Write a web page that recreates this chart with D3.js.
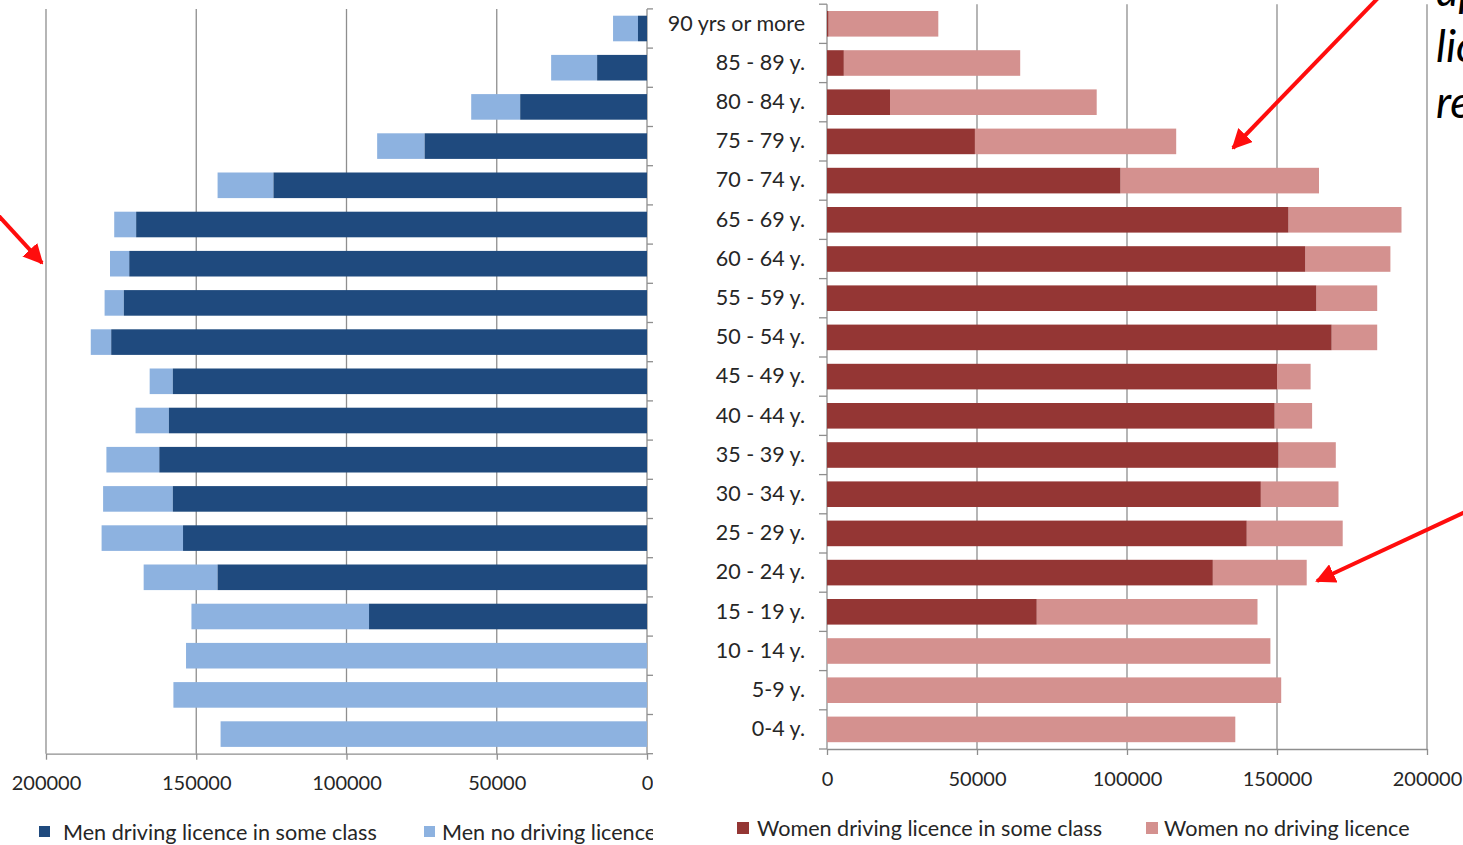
<!DOCTYPE html>
<html>
<head>
<meta charset="utf-8">
<script src="https://cdn.jsdelivr.net/npm/d3@7"></script>
<style>
  html, body { margin: 0; padding: 0; background: #ffffff; overflow: hidden; }
  svg { display: block; }
  text { font-family: Lato, "Open Sans", sans-serif; fill: #262626; }
</style>
</head>
<body>
<svg id="chart" width="1463" height="845"></svg>
<script>
// ---- data ----
const categories = ["90 yrs or more", "85 - 89 y.", "80 - 84 y.", "75 - 79 y.", "70 - 74 y.", "65 - 69 y.",
  "60 - 64 y.", "55 - 59 y.", "50 - 54 y.", "45 - 49 y.", "40 - 44 y.", "35 - 39 y.", "30 - 34 y.",
  "25 - 29 y.", "20 - 24 y.", "15 - 19 y.", "10 - 14 y.", "5-9 y.", "0-4 y."];
const menLicence      = [3000, 16600, 42200, 74000, 124300, 170000, 172300, 174100, 178300, 157800, 159100, 162300, 157800, 154400, 142900, 92500, 0, 0, 0];
const menNoLicence    = [8300, 15300, 16300, 15800, 18600, 7300, 6400, 6400, 6800, 7700, 11100, 17600, 23200, 27100, 24600, 59100, 153400, 157600, 141900];
const womenLicence    = [500, 5600, 21000, 49300, 97800, 153800, 159400, 163100, 168200, 150000, 149200, 150500, 144600, 139900, 128600, 69900, 0, 0, 0];
const womenNoLicence  = [36600, 58800, 68900, 67100, 66200, 37700, 28400, 20300, 15200, 11200, 12500, 19100, 25900, 32000, 31300, 73600, 147800, 151400, 136100];
const xTicks = [0, 50000, 100000, 150000, 200000];
const legendMen = ["Men driving licence in some class", "Men no driving licence"];
const legendWomen = ["Women driving licence in some class", "Women no driving licence"];
const noteLines = ["ap", "lic", "re"];

// ---- styles ----
const C = {
  menLic: "#1f4a7e", menNo: "#8db2e0",
  womLic: "#943634", womNo: "#d4918f",
  grid: "#8e8e8e", red: "#ff0d0d"
};

const svg = d3.select("#chart");
const defs = svg.append("defs");
defs.append("clipPath").attr("id", "leftClip")
  .append("rect").attr("x", 0).attr("y", 0).attr("width", 653).attr("height", 845);

// ---- scales ----
const xL = d3.scaleLinear().domain([0, 200000]).range([647, 46]);
const xR = d3.scaleLinear().domain([0, 200000]).range([827, 1427]);
const yL = d3.scaleBand().domain(categories).range([8.9, 753.7]).paddingInner(0.347).paddingOuter(0.1735);
const yR = d3.scaleBand().domain(categories).range([4.2, 749]).paddingInner(0.347).paddingOuter(0.1735);

function gridAndAxes(g, x, y, side) {
  const [y0, y1] = y.range();
  // gridlines
  g.append("g").selectAll("line").data(xTicks.filter(d => d !== 0)).join("line")
    .attr("x1", d => x(d)).attr("x2", d => x(d))
    .attr("y1", y0).attr("y2", y1)
    .attr("stroke", C.grid).attr("stroke-width", 1.3);
  // bottom axis
  const ax = g.append("g").attr("transform", `translate(0,${y1})`)
    .call(d3.axisBottom(x).tickValues(xTicks).tickFormat(d3.format("d")).tickSizeInner(6).tickSizeOuter(0).tickPadding(side === "L" ? 16 : 17));
  ax.select(".domain").attr("stroke", C.grid).attr("stroke-width", 1.3);
  ax.selectAll(".tick line").attr("stroke", C.grid).attr("stroke-width", 1.3);
  ax.selectAll(".tick text").attr("font-size", 20).attr("font-family", "Lato, sans-serif").attr("fill", "#262626");
  // vertical axis line
  g.append("line").attr("x1", x(0)).attr("x2", x(0)).attr("y1", y0).attr("y2", y1)
    .attr("stroke", C.grid).attr("stroke-width", 1.3);
  // category boundary ticks
  const bounds = d3.range(categories.length + 1).map(i => y0 + i * y.step());
  const dir = side === "L" ? 6 : -8;
  g.append("g").selectAll("line").data(bounds).join("line")
    .attr("x1", x(0)).attr("x2", x(0) + dir)
    .attr("y1", d => d).attr("y2", d => d)
    .attr("stroke", C.grid).attr("stroke-width", 1.3);
}

// ---- left (men) ----
const gL = svg.append("g").attr("clip-path", "url(#leftClip)");
gridAndAxes(gL, xL, yL, "L");
gL.append("g").selectAll("rect").data(categories).join("rect")
  .attr("x", (d, i) => xL(menLicence[i] + menNoLicence[i]))
  .attr("width", (d, i) => xL(menLicence[i]) - xL(menLicence[i] + menNoLicence[i]))
  .attr("y", d => yL(d)).attr("height", yL.bandwidth())
  .attr("fill", C.menNo);
gL.append("g").selectAll("rect").data(categories).join("rect")
  .attr("x", (d, i) => xL(menLicence[i]))
  .attr("width", (d, i) => xL(0) - xL(menLicence[i]))
  .attr("y", d => yL(d)).attr("height", yL.bandwidth())
  .attr("fill", C.menLic);

// left legend
const legL = gL.append("g");
[[39, C.menLic, 63], [424, C.menNo, 442]].forEach((p, i) => {
  legL.append("rect").attr("x", p[0]).attr("y", 826).attr("width", 11).attr("height", 11).attr("fill", p[1]);
  legL.append("text").attr("x", p[2]).attr("y", 840).attr("font-size", 21.6).text(legendMen[i]);
});

// ---- right (women) ----
const gR = svg.append("g");
gridAndAxes(gR, xR, yR, "R");
gR.append("g").selectAll("rect").data(categories).join("rect")
  .attr("x", (d, i) => xR(womenLicence[i]))
  .attr("width", (d, i) => xR(womenLicence[i] + womenNoLicence[i]) - xR(womenLicence[i]))
  .attr("y", d => yR(d)).attr("height", yR.bandwidth())
  .attr("fill", C.womNo);
gR.append("g").selectAll("rect").data(categories).join("rect")
  .attr("x", xR(0))
  .attr("width", (d, i) => xR(womenLicence[i]) - xR(0))
  .attr("y", d => yR(d)).attr("height", yR.bandwidth())
  .attr("fill", C.womLic);

// category labels
const cat = gR.append("g").attr("transform", `translate(${xR(0)},0)`)
  .call(d3.axisLeft(yR).tickSize(0).tickPadding(22));
cat.select(".domain").remove();
cat.selectAll(".tick text").attr("font-size", 21.5).attr("font-family", "Lato, sans-serif").attr("fill", "#262626");

// right legend
[[737, C.womLic, 757], [1146, C.womNo, 1164]].forEach((p, i) => {
  gR.append("rect").attr("x", p[0]).attr("y", 822).attr("width", 12).attr("height", 12).attr("fill", p[1]);
  gR.append("text").attr("x", p[2]).attr("y", 836).attr("font-size", 21.6).text(legendWomen[i]);
});

// ---- annotations ----
defs.append("marker").attr("id", "arrowHead").attr("viewBox", "0 0 10 10")
  .attr("refX", 9).attr("refY", 5).attr("markerWidth", 5).attr("markerHeight", 5)
  .attr("markerUnits", "strokeWidth").attr("orient", "auto")
  .append("path").attr("d", "M0,0 L10,5 L0,10 Z").attr("fill", C.red);
const arrows = [
  [[-2, 215], [42, 263]],
  [[1378, -2], [1233, 148]],
  [[1465, 512], [1317, 581]]
];
svg.append("g").selectAll("line").data(arrows).join("line")
  .attr("x1", d => d[0][0]).attr("y1", d => d[0][1])
  .attr("x2", d => d[1][0]).attr("y2", d => d[1][1])
  .attr("stroke", C.red).attr("stroke-width", 4)
  .attr("marker-end", "url(#arrowHead)");

svg.append("g").selectAll("text").data(noteLines).join("text")
  .attr("x", 1436).attr("y", (d, i) => 6 + i * 56)
  .attr("font-size", 44).attr("font-style", "italic")
  .style("fill", "#000")
  .text(d => d);
</script>
</body>
</html>
